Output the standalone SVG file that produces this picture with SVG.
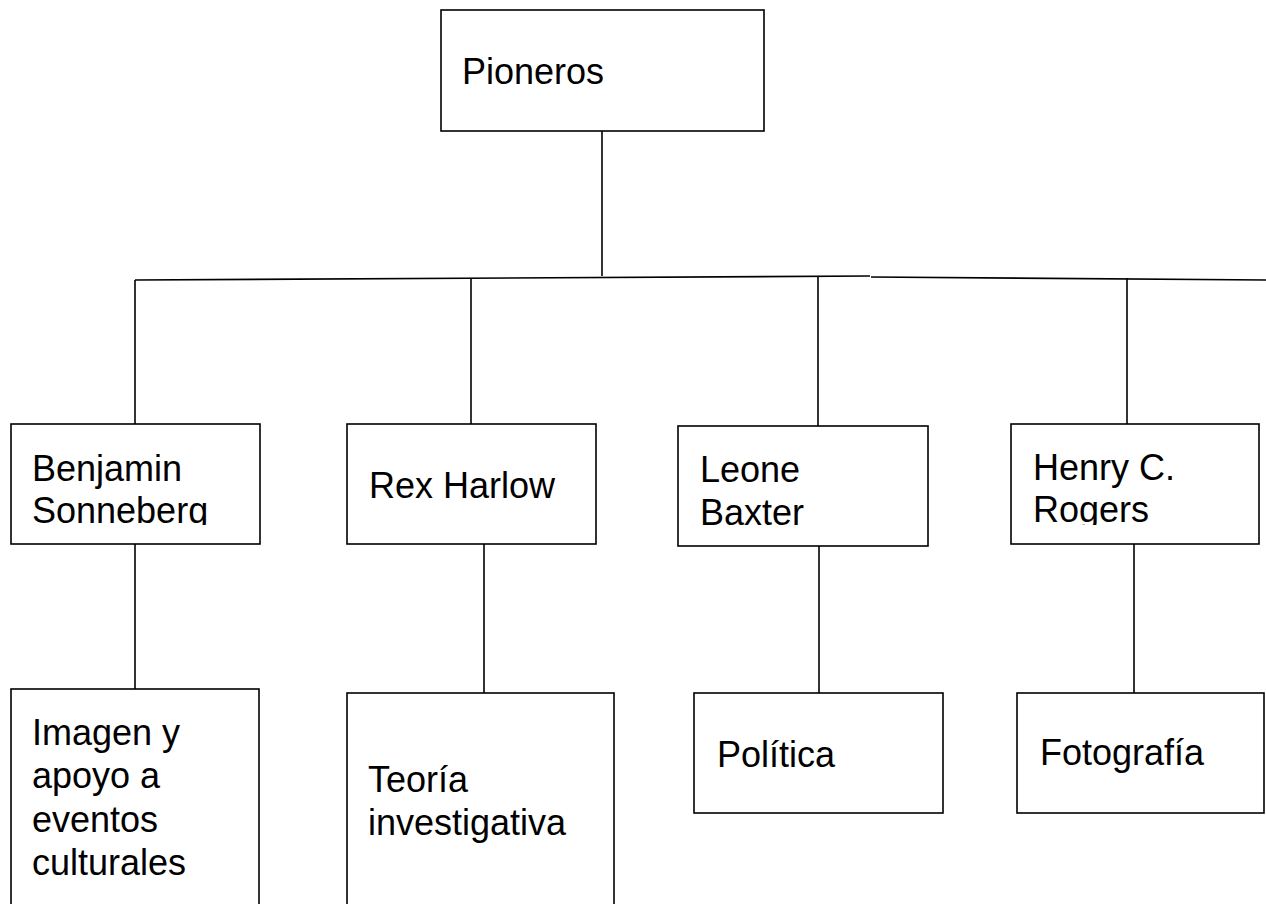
<svg xmlns="http://www.w3.org/2000/svg" width="1266" height="904" viewBox="0 0 1266 904">
<style>
.box{fill:#fff;stroke:#000;stroke-width:1.6}
.lbl{font-family:"Liberation Sans",Arial,sans-serif;font-size:36px;fill:#000}
.con{stroke:#000;stroke-width:1.6;fill:none}
</style>
<defs>
<clipPath id="clipBen"><rect x="11" y="424" width="249" height="101"/></clipPath>
<clipPath id="clipHen"><rect x="1011" y="424" width="248" height="101"/></clipPath>
</defs>
<rect width="1266" height="904" fill="#fff"/>
<g id="connectors">
<path class="con" d="M602 131 V276"/>
<path class="con" d="M135 280 L870 276"/>
<path class="con" d="M871 277 L1266 280"/>
<path class="con" d="M135 280 V424"/>
<path class="con" d="M471 279 V424"/>
<path class="con" d="M818 277 V426"/>
<path class="con" d="M1127 278 V424"/>
<path class="con" d="M135 544 V689"/>
<path class="con" d="M484 544 V693"/>
<path class="con" d="M819 546 V693"/>
<path class="con" d="M1134 544 V693"/>
</g>
<g id="n-pioneros">
<rect class="box" x="441" y="10" width="323" height="121"/>
<text class="lbl" x="462" y="84">Pioneros</text>
</g>
<g id="n-benjamin">
<rect class="box" x="11" y="424" width="249" height="120"/>
<g clip-path="url(#clipBen)">
<text class="lbl" x="32" y="481">Benjamin</text>
<text class="lbl" x="32" y="523">Sonneberg</text>
</g>
</g>
<g id="n-rex">
<rect class="box" x="347" y="424" width="249" height="120"/>
<text class="lbl" x="369" y="498">Rex Harlow</text>
</g>
<g id="n-leone">
<rect class="box" x="678" y="426" width="250" height="120"/>
<text class="lbl" x="700" y="482">Leone</text>
<text class="lbl" x="700" y="525">Baxter</text>
</g>
<g id="n-henry">
<rect class="box" x="1011" y="424" width="248" height="120"/>
<g clip-path="url(#clipHen)">
<text class="lbl" x="1033" y="480">Henry C.</text>
<text class="lbl" x="1033" y="522">Rogers</text>
</g>
</g>
<g id="n-imagen">
<rect class="box" x="11" y="689" width="248" height="220"/>
<text class="lbl" x="32" y="745">Imagen y</text>
<text class="lbl" x="32" y="788">apoyo a</text>
<text class="lbl" x="32" y="832">eventos</text>
<text class="lbl" x="32" y="875">culturales</text>
</g>
<g id="n-teoria">
<rect class="box" x="347" y="693" width="267" height="220"/>
<text class="lbl" x="368" y="792">Teoría</text>
<text class="lbl" x="368" y="835">investigativa</text>
</g>
<g id="n-politica">
<rect class="box" x="694" y="693" width="249" height="120"/>
<text class="lbl" x="717" y="767">Política</text>
</g>
<g id="n-fotografia">
<rect class="box" x="1017" y="693" width="247" height="120"/>
<text class="lbl" x="1040" y="765">Fotografía</text>
</g>
</svg>
